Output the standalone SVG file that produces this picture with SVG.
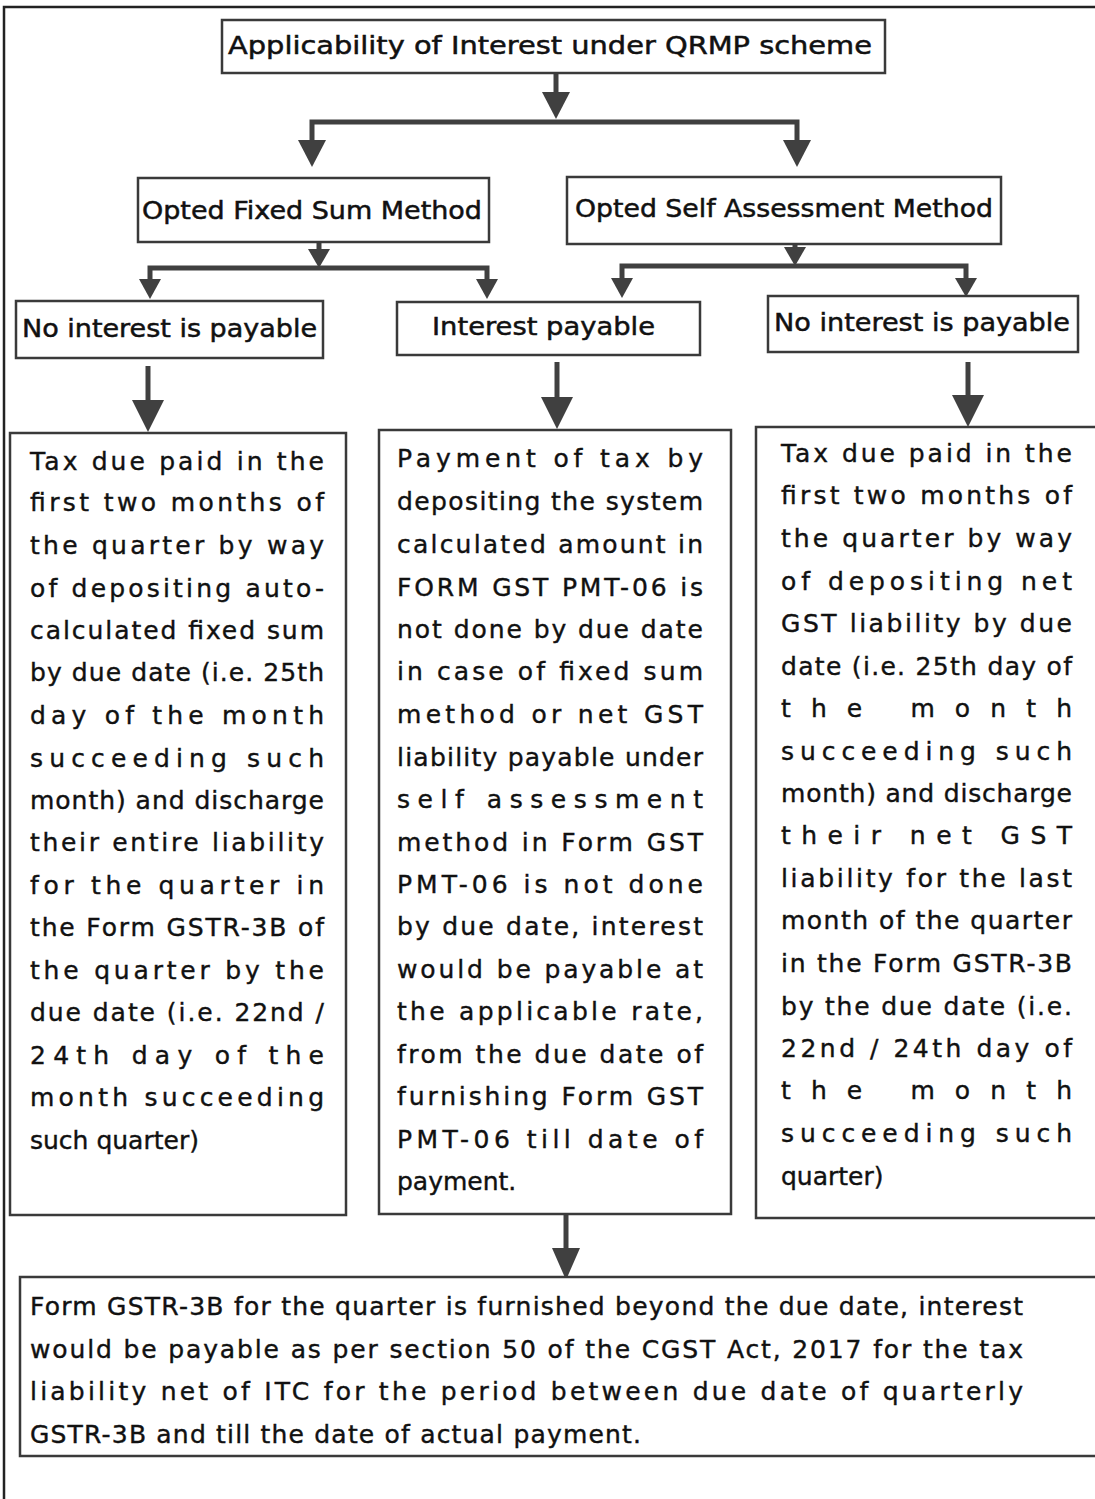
<svg xmlns="http://www.w3.org/2000/svg" width="1095" height="1499" viewBox="0 0 1095 1499">
<style>
.box{fill:#fff;stroke:#3a3a3a;stroke-width:2.5}
.t{font-family:"DejaVu Sans","Liberation Sans",sans-serif;font-size:25px;fill:#111;stroke:#111;stroke-width:0.4}
.h{font-family:"DejaVu Sans","Liberation Sans",sans-serif;font-size:25px;fill:#111;stroke:#111;stroke-width:0.5}
.sh{stroke:#404040;stroke-width:5;fill:none}
.hd{fill:#404040}
.frame{stroke:#222;stroke-width:2.5;fill:none}
</style>
<rect width="1095" height="1499" fill="#fff"/>
<path class="frame" d="M4,1499 V7 H1095"/>

<g id="connectors">
  <line class="sh" x1="556" y1="73" x2="556" y2="95"/>
  <polygon class="hd" points="542,92 570,92 556,119"/>
  <polyline class="sh" points="312,142 312,122 797,122 797,142"/>
  <polygon class="hd" points="298,140 326,140 312,167"/>
  <polygon class="hd" points="783,140 811,140 797,167"/>

  <line class="sh" x1="319" y1="242" x2="319" y2="252"/>
  <polygon class="hd" points="308,249 330,249 319,268"/>
  <polyline class="sh" points="150,282 150,268 487,268 487,282"/>
  <polygon class="hd" points="139,279 161,279 150,299"/>
  <polygon class="hd" points="476,279 498,279 487,299"/>

  <line class="sh" x1="795" y1="244" x2="795" y2="250"/>
  <polygon class="hd" points="784,247 806,247 795,266"/>
  <polyline class="sh" points="622,281 622,266 966,266 966,281"/>
  <polygon class="hd" points="611,278 633,278 622,298"/>
  <polygon class="hd" points="955,278 977,278 966,297"/>

  <line class="sh" x1="148" y1="366" x2="148" y2="404"/>
  <polygon class="hd" points="132,400 164,400 148,432"/>
  <line class="sh" x1="557" y1="362" x2="557" y2="400"/>
  <polygon class="hd" points="541,397 573,397 557,429"/>
  <line class="sh" x1="968" y1="362" x2="968" y2="398"/>
  <polygon class="hd" points="952,395 984,395 968,427"/>

  <line class="sh" x1="566" y1="1215" x2="566" y2="1252"/>
  <polygon class="hd" points="552,1248 580,1248 566,1280"/>
</g>

<g id="n-top">
  <rect class="box" x="222" y="20" width="663" height="53"/>
  <text class="h" x="228" y="54" textLength="644" lengthAdjust="spacingAndGlyphs">Applicability of Interest under QRMP scheme</text>
</g>
<g id="n-fixed">
  <rect class="box" x="138" y="178" width="351" height="64"/>
  <text class="h" x="142" y="219" textLength="340" lengthAdjust="spacingAndGlyphs">Opted Fixed Sum Method</text>
</g>
<g id="n-self">
  <rect class="box" x="567" y="177" width="434" height="67"/>
  <text class="h" x="575" y="217" textLength="418" lengthAdjust="spacingAndGlyphs">Opted Self Assessment Method</text>
</g>
<g id="n-nointL">
  <rect class="box" x="16" y="301" width="307" height="57"/>
  <text class="h" x="22" y="337" textLength="295" lengthAdjust="spacingAndGlyphs">No interest is payable</text>
</g>
<g id="n-int">
  <rect class="box" x="397" y="302" width="303" height="53"/>
  <text class="h" x="432" y="335" textLength="223" lengthAdjust="spacingAndGlyphs">Interest payable</text>
</g>
<g id="n-nointR">
  <rect class="box" x="768" y="296" width="310" height="56"/>
  <text class="h" x="774" y="331" textLength="296" lengthAdjust="spacingAndGlyphs">No interest is payable</text>
</g>

<g id="n-colL">
  <rect class="box" x="10" y="433" width="336" height="782"/>
  <g class="t">
    <text x="30" y="470" textLength="294" lengthAdjust="spacing">Tax due paid in the</text>
    <text x="30" y="511" textLength="294" lengthAdjust="spacing">first two months of</text>
    <text x="30" y="554" textLength="294" lengthAdjust="spacing">the quarter by way</text>
    <text x="30" y="597" textLength="294" lengthAdjust="spacing">of depositing auto-</text>
    <text x="30" y="639" textLength="294" lengthAdjust="spacing">calculated fixed sum</text>
    <text x="30" y="681" textLength="294" lengthAdjust="spacing">by due date (i.e. 25th</text>
    <text x="30" y="724" textLength="294" lengthAdjust="spacing">day of the month</text>
    <text x="30" y="767" textLength="294" lengthAdjust="spacing">succeeding such</text>
    <text x="30" y="809" textLength="294" lengthAdjust="spacing">month) and discharge</text>
    <text x="30" y="851" textLength="294" lengthAdjust="spacing">their entire liability</text>
    <text x="30" y="894" textLength="294" lengthAdjust="spacing">for the quarter in</text>
    <text x="30" y="936" textLength="294" lengthAdjust="spacing">the Form GSTR-3B of</text>
    <text x="30" y="979" textLength="294" lengthAdjust="spacing">the quarter by the</text>
    <text x="30" y="1021" textLength="294" lengthAdjust="spacing">due date (i.e. 22nd /</text>
    <text x="30" y="1064" textLength="294" lengthAdjust="spacing">24th day of the</text>
    <text x="30" y="1106" textLength="294" lengthAdjust="spacing">month succeeding</text>
    <text x="30" y="1149">such quarter)</text>
  </g>
</g>

<g id="n-colC">
  <rect class="box" x="379" y="430" width="352" height="784"/>
  <g class="t">
    <text x="397" y="467" textLength="306" lengthAdjust="spacing">Payment of tax by</text>
    <text x="397" y="510" textLength="306" lengthAdjust="spacing">depositing the system</text>
    <text x="397" y="553" textLength="306" lengthAdjust="spacing">calculated amount in</text>
    <text x="397" y="596" textLength="306" lengthAdjust="spacing">FORM GST PMT-06 is</text>
    <text x="397" y="638" textLength="306" lengthAdjust="spacing">not done by due date</text>
    <text x="397" y="680" textLength="306" lengthAdjust="spacing">in case of fixed sum</text>
    <text x="397" y="723" textLength="306" lengthAdjust="spacing">method or net GST</text>
    <text x="397" y="766" textLength="306" lengthAdjust="spacing">liability payable under</text>
    <text x="397" y="808" textLength="306" lengthAdjust="spacing">self assessment</text>
    <text x="397" y="851" textLength="306" lengthAdjust="spacing">method in Form GST</text>
    <text x="397" y="893" textLength="306" lengthAdjust="spacing">PMT-06 is not done</text>
    <text x="397" y="935" textLength="306" lengthAdjust="spacing">by due date, interest</text>
    <text x="397" y="978" textLength="306" lengthAdjust="spacing">would be payable at</text>
    <text x="397" y="1020" textLength="306" lengthAdjust="spacing">the applicable rate,</text>
    <text x="397" y="1063" textLength="306" lengthAdjust="spacing">from the due date of</text>
    <text x="397" y="1105" textLength="306" lengthAdjust="spacing">furnishing Form GST</text>
    <text x="397" y="1148" textLength="306" lengthAdjust="spacing">PMT-06 till date of</text>
    <text x="397" y="1190">payment.</text>
  </g>
</g>

<g id="n-colR">
  <rect class="box" x="756" y="427" width="345" height="791"/>
  <g class="t">
    <text x="781" y="462" textLength="291" lengthAdjust="spacing">Tax due paid in the</text>
    <text x="781" y="504" textLength="291" lengthAdjust="spacing">first two months of</text>
    <text x="781" y="547" textLength="291" lengthAdjust="spacing">the quarter by way</text>
    <text x="781" y="590" textLength="291" lengthAdjust="spacing">of depositing net</text>
    <text x="781" y="632" textLength="291" lengthAdjust="spacing">GST liability by due</text>
    <text x="781" y="675" textLength="291" lengthAdjust="spacing">date (i.e. 25th day of</text>
    <text x="781" y="717" textLength="291" lengthAdjust="spacing">the month</text>
    <text x="781" y="760" textLength="291" lengthAdjust="spacing">succeeding such</text>
    <text x="781" y="802" textLength="291" lengthAdjust="spacing">month) and discharge</text>
    <text x="781" y="844" textLength="291" lengthAdjust="spacing">their net GST</text>
    <text x="781" y="887" textLength="291" lengthAdjust="spacing">liability for the last</text>
    <text x="781" y="929" textLength="291" lengthAdjust="spacing">month of the quarter</text>
    <text x="781" y="972" textLength="291" lengthAdjust="spacing">in the Form GSTR-3B</text>
    <text x="781" y="1015" textLength="291" lengthAdjust="spacing">by the due date (i.e.</text>
    <text x="781" y="1057" textLength="291" lengthAdjust="spacing">22nd / 24th day of</text>
    <text x="781" y="1099" textLength="291" lengthAdjust="spacing">the month</text>
    <text x="781" y="1142" textLength="291" lengthAdjust="spacing">succeeding such</text>
    <text x="781" y="1185">quarter)</text>
  </g>
</g>

<g id="n-bottom">
  <rect class="box" x="20" y="1277" width="1081" height="179"/>
  <g class="t">
    <text x="30" y="1315" textLength="993" lengthAdjust="spacing">Form GSTR-3B for the quarter is furnished beyond the due date, interest</text>
    <text x="30" y="1358" textLength="993" lengthAdjust="spacing">would be payable as per section 50 of the CGST Act, 2017 for the tax</text>
    <text x="30" y="1400" textLength="993" lengthAdjust="spacing">liability net of ITC for the period between due date of quarterly</text>
    <text x="30" y="1443" textLength="611" lengthAdjust="spacing">GSTR-3B and till the date of actual payment.</text>
  </g>
</g>
</svg>
